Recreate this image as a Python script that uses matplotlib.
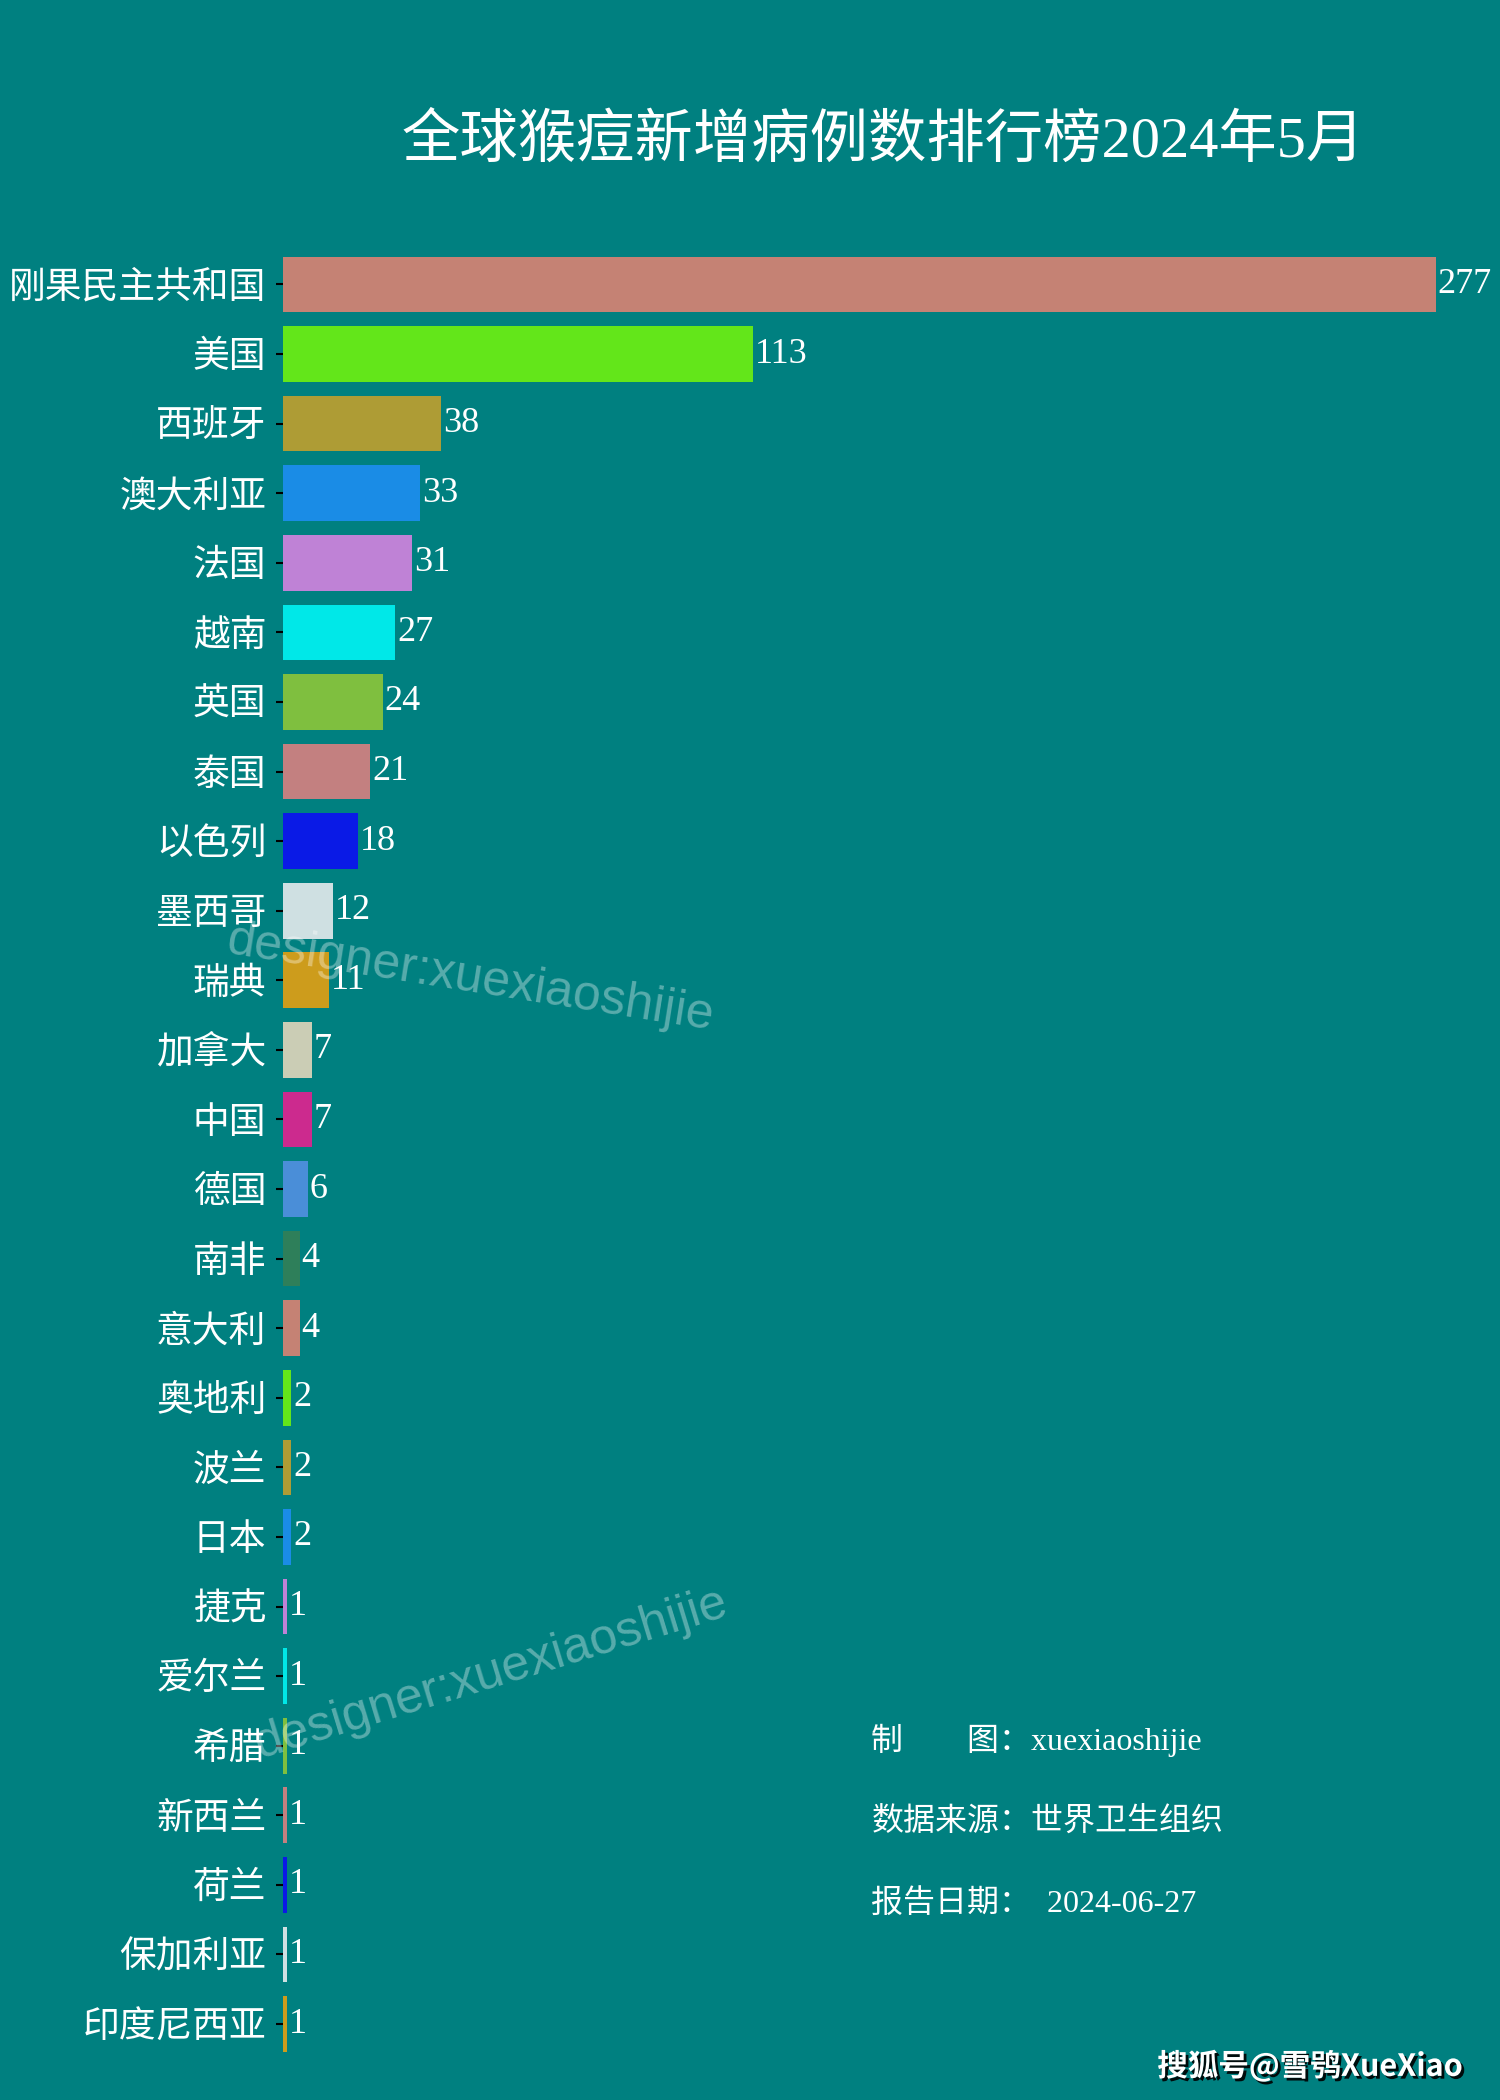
import matplotlib
matplotlib.use("Agg")
import matplotlib.pyplot as plt
import matplotlib.patheffects as pe

# === DATA ===
COUNTRIES = ["刚果民主共和国", "美国", "西班牙", "澳大利亚", "法国", "越南", "英国",
             "泰国", "以色列", "墨西哥", "瑞典", "加拿大", "中国", "德国", "南非",
             "意大利", "奥地利", "波兰", "日本", "捷克", "爱尔兰", "希腊", "新西兰",
             "荷兰", "保加利亚", "印度尼西亚"]
CASES = [277, 113, 38, 33, 31, 27, 24, 21, 18, 12, 11, 7, 7, 6, 4,
         4, 2, 2, 2, 1, 1, 1, 1, 1, 1, 1]
PALETTE = ["#c58274", "#63e61a", "#ae9c35", "#1a8ce6", "#bf82d6", "#00e8e8",
           "#7fbf3f", "#c38080", "#0a1ae6", "#cfe0e2", "#cd9c1c", "#cbcdb5",
           "#cc2a8e", "#4a8ed8", "#2e7f5a"]

TITLE = "全球猴痘新增病例数排行榜2024年5月"
INFO = ["制\u3000\u3000图：xuexiaoshijie",
        "数据来源：世界卫生组织",
        "报告日期：  2024-06-27"]
WATERMARK = "designer:xuexiaoshijie"

BG = "#008080"
SERIF_CJK = ["Liberation Serif", "Noto Sans CJK SC", "DejaVu Sans"]

plt.rcParams["font.family"] = ["Noto Sans CJK SC", "DejaVu Sans"]

fig = plt.figure(figsize=(15, 21), dpi=100, facecolor=BG)
ax = fig.add_axes([0.1887, 0.0196, 0.7687, 0.8615], facecolor=BG)

colors = [PALETTE[i % len(PALETTE)] for i in range(len(CASES))]
ypos = list(range(len(CASES)))
ax.barh(ypos, CASES, height=0.8, color=colors)

for y, v in zip(ypos, CASES):
    ax.text(v + 0.4, y, str(v), va="center", ha="left", color="white",
            fontsize=26, family=SERIF_CJK)

ax.set_xlim(0, 277)
ax.set_ylim(len(CASES) - 0.5, -0.5)
ax.set_yticks(ypos)
ax.set_yticklabels(COUNTRIES, family=SERIF_CJK, fontsize=26.5, color="white")
ax.tick_params(axis="y", length=5, width=1.5, color="black", pad=7)
ax.set_xticks([])
for s in ax.spines.values():
    s.set_visible(False)

# title
fig.text(0.589, 0.933, TITLE, ha="center", va="center", color="white",
         fontsize=42, family=SERIF_CJK)

# info block
for i, line in enumerate(INFO):
    fig.text(0.581, 0.1714 - i * 0.0389, line, ha="left", va="center",
             color="white", fontsize=23, family=SERIF_CJK)

# watermarks
fig.text(0.314, 0.534, WATERMARK, ha="center", va="center", rotation=-9,
         color="white", alpha=0.35, fontsize=36, family="Liberation Sans")
fig.text(0.328, 0.203, WATERMARK, ha="center", va="center", rotation=17,
         color="white", alpha=0.35, fontsize=36, family="Liberation Sans")

# platform stamp bottom right
fig.text(0.975, 0.016, "搜狐号@雪鸮XueXiao", ha="right", va="center",
         color="white", fontsize=22, fontweight="bold",
         path_effects=[pe.withSimplePatchShadow(offset=(2, -2), shadow_rgbFace="black", alpha=0.9)])

fig.savefig("out.png", dpi=100, facecolor=BG)
